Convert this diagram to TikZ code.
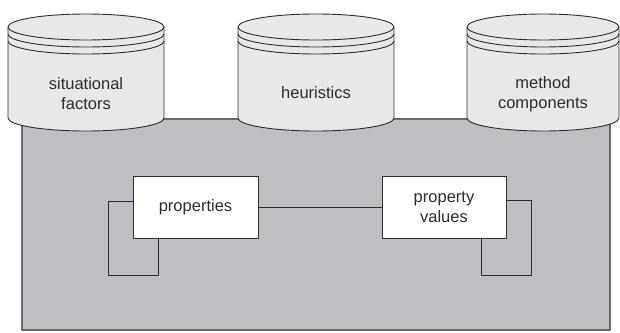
\documentclass[tikz,border=0pt]{standalone}
\usepackage{fontspec}
\setmainfont{Liberation Sans}
\definecolor{panel}{RGB}{190,191,195}
\definecolor{panelline}{RGB}{105,105,108}
\definecolor{cylfill}{RGB}{232,232,233}
\definecolor{ink}{RGB}{45,45,45}
\newcommand\mycyl[2]{%
  \pgfmathsetmacro\rx{(#2-#1)/2}%
  \filldraw[ln, fill=cylfill] (#1,-27) -- (#1,-118)
    arc[start angle=180, end angle=360, x radius=\rx, y radius=13] -- (#2,-27)
    arc[start angle=0, end angle=180, x radius=\rx, y radius=13] -- cycle;
  \draw[ln] (#1,-27) arc[start angle=180, end angle=360, x radius=\rx, y radius=13];
  \draw[ln] (#1,-34) arc[start angle=180, end angle=360, x radius=\rx, y radius=13];
  \draw[ln] (#1,-41) arc[start angle=180, end angle=360, x radius=\rx, y radius=13];
}
\begin{document}
\begin{tikzpicture}[x=1pt,y=1pt,line join=round,
  ln/.style={draw=ink, line width=0.9pt},
  txt/.style={text=ink, align=center, inner sep=0pt, font=\fontsize{16.5}{20}\selectfont},
  box/.style={txt, ln, fill=white, minimum height=62pt, text width=110pt}]
\useasboundingbox (0,0) rectangle (620,-332);
% panel
\filldraw[fill=panel, draw=panelline, line width=1.4pt] (22,-119) rectangle (610,-330);
% cylinders
\mycyl{8}{164}
\mycyl{238}{394}
\mycyl{467}{619}
\node[txt] (sf) at (86,-94) {situational\\factors};
\node[txt] (he) at (316,-93) {heuristics};
\node[txt] (mc) at (543,-94) {method\\components};
% boxes
\node[box, minimum width=125pt] (pr) at (195.5,-207) {properties};
\node[box, minimum width=124pt] (pv) at (444,-207) {property\\values};
\draw[ln] (pr.east) -- (pv.west);
\coordinate (l1) at (108,-201);
\coordinate (l2) at (108,-275);
\coordinate (l3) at (158,-275);
\draw[ln] (pr.west |- l1) -- (l1) -- (l2) -- (l3) -- (l3 |- pr.south);
\coordinate (r1) at (531,-200);
\coordinate (r2) at (531,-275);
\coordinate (r3) at (481,-275);
\draw[ln] (pv.east |- r1) -- (r1) -- (r2) -- (r3) -- (r3 |- pv.south);
\end{tikzpicture}
\end{document}
